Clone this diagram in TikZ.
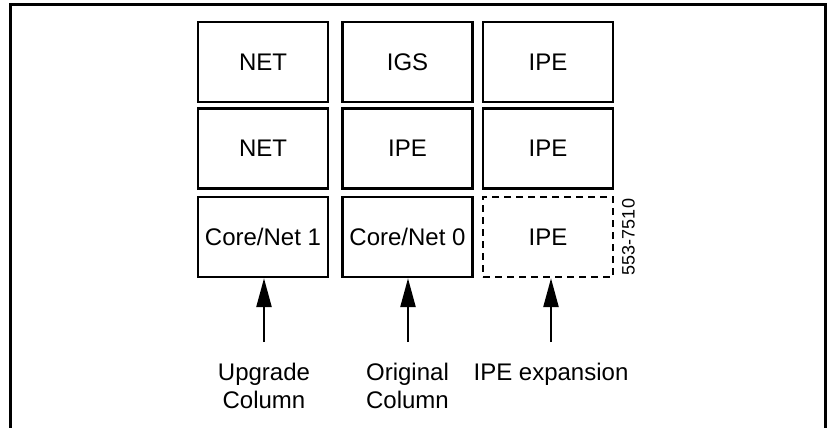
\documentclass[tikz,border=0pt]{standalone}
\usepackage{fontspec}
\setmainfont{Liberation Sans}
\usetikzlibrary{arrows.meta}
\begin{document}
\begin{tikzpicture}[x=1pt,y=-1pt,
  cell/.style={draw,line width=2.4pt,minimum width=130pt,minimum height=80pt,inner sep=0pt,font=\fontsize{24}{28}\selectfont},
  dashcell/.style={cell,dash pattern=on 7pt off 5pt},
  lbl/.style={align=center,anchor=base,inner sep=0pt,font=\fontsize{24}{28}\selectfont},
  up/.style={line width=2.5pt,-{Triangle[length=29pt,width=15pt]}}]
\useasboundingbox (0,0) rectangle (831,428);
\fill[white] (0,0) rectangle (831,428);
\draw[line width=3pt] (10,430) -- (10,4.7) -- (825,4.7) -- (825,430);
% row 1
\node[cell] (c1r1) at (263,62) {NET};
\node[cell] (c2r1) at (407.5,62) {IGS};
\node[cell] (c3r1) at (548,62) {IPE};
% row 2
\node[cell] (c1r2) at (263,148.5) {NET};
\node[cell] (c2r2) at (407.5,148.5) {IPE};
\node[cell] (c3r2) at (548,148.5) {IPE};
% row 3
\node[cell] (c1r3) at (263,237) {Core/Net 1};
\node[cell] (c2r3) at (407.5,237) {Core/Net 0};
\node[dashcell] (c3r3) at (548,237) {IPE};
\node[rotate=90,inner sep=0pt,font=\fontsize{18}{20}\selectfont] (code) at (628.5,237) {553-7510};
% arrow tails
\coordinate (t1) at (264,342);
\coordinate (t2) at (408,342);
\coordinate (t3) at (551,342);
\draw[up] (t1) -- (t1 |- c1r3.south);
\draw[up] (t2) -- (t2 |- c2r3.south);
\draw[up] (t3) -- (t3 |- c3r3.south);
% labels
\node[lbl] (l1) at (264,408) {Upgrade\\Column};
\node[lbl] (l2) at (407.5,408) {Original\\Column};
\node[lbl] (l3) at (551,380) {IPE expansion};
\end{tikzpicture}
\end{document}
